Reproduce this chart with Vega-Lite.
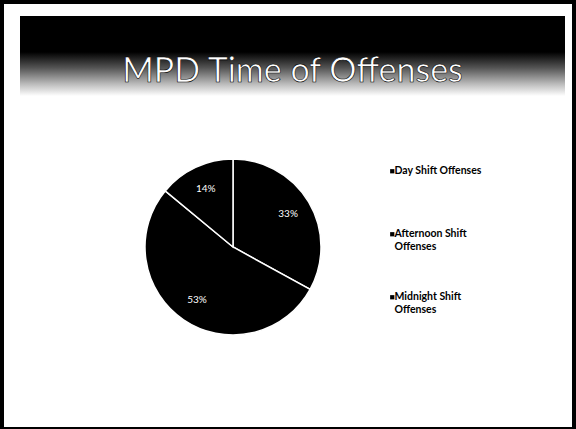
{
  "$schema": "https://vega.github.io/schema/vega-lite/v6.json",
  "background": "black",
  "padding": {"left": 4, "top": 4, "right": 4, "bottom": 2},
  "spacing": 0,
  "config": {
    "view": {"stroke": null},
    "concat": {"spacing": 0},
    "font": "Lato"
  },
  "vconcat": [
    {"width": 568, "height": 12, "data": {"values": [{}]}, "mark": {"type": "rect", "color": "white"}, "encoding": {}},
    {
      "bounds": "flush",
      "hconcat": [
        {"width": 16, "height": 80, "data": {"values": [{}]}, "mark": {"type": "rect", "color": "white"}, "encoding": {}},
        {
          "width": 545,
          "height": 80,
          "data": {"values": [{"title": "MPD Time of Offenses"}]},
          "layer": [
            {
              "mark": {
                "type": "rect",
                "color": {
                  "gradient": "linear",
                  "x1": 0, "y1": 0, "x2": 0, "y2": 1,
                  "stops": [
                    {"offset": 0, "color": "#000000"},
                    {"offset": 0.45, "color": "#000000"},
                    {"offset": 0.65, "color": "#555555"},
                    {"offset": 0.85, "color": "#bbbbbb"},
                    {"offset": 1, "color": "#ffffff"}
                  ]
                }
              },
              "encoding": {}
            },
            {
              "mark": {
                "type": "text",
                "fontSize": 34,
                "color": "white",
                "stroke": "black",
                "strokeWidth": 0.6,
                "baseline": "alphabetic",
                "align": "center",
                "dy": 26
              },
              "encoding": {"text": {"field": "title"}}
            }
          ]
        },
        {"width": 7, "height": 80, "data": {"values": [{}]}, "mark": {"type": "rect", "color": "white"}, "encoding": {}}
      ]
    },
    {
      "width": 568,
      "height": 302,
      "data": {
        "values": [
          {"shift": "Day Shift Offenses", "share": 0.33},
          {"shift": "Afternoon Shift Offenses", "share": 0.53},
          {"shift": "Midnight Shift Offenses", "share": 0.14}
        ]
      },
      "transform": [{"window": [{"op": "row_number", "as": "idx"}]}],
      "layer": [
        {
          "mark": {"type": "rect", "color": "white"},
          "encoding": {}
        },
        {
          "mark": {"type": "arc", "outerRadius": 88, "stroke": "white", "strokeWidth": 1.5, "xOffset": -55},
          "encoding": {
            "theta": {"field": "share", "type": "quantitative", "stack": true},
            "order": {"field": "idx", "type": "quantitative"},
            "color": {
              "field": "shift",
              "type": "nominal",
              "sort": ["Day Shift Offenses", "Afternoon Shift Offenses", "Midnight Shift Offenses"],
              "scale": {"range": ["#000000", "#000000", "#000000"]},
              "legend": {
                "orient": "none",
                "legendX": 383,
                "legendY": 162,
                "title": null,
                "symbolType": "square",
                "symbolSize": 18,
                "symbolStrokeWidth": 0,
                "labelFontSize": 10.5,
                "labelFontWeight": "bold",
                "labelColor": "black",
                "labelOffset": -3,
                "rowPadding": 39,
                "labelExpr": "datum.label == 'Afternoon Shift Offenses' ? ['Afternoon Shift', 'Offenses'] : datum.label == 'Midnight Shift Offenses' ? ['Midnight Shift', 'Offenses'] : [datum.label, '']"
              }
            }
          }
        },
        {
          "mark": {"type": "text", "radius": 64, "color": "white", "fontSize": 10, "xOffset": -55},
          "encoding": {
            "theta": {"field": "share", "type": "quantitative", "stack": true},
            "order": {"field": "idx", "type": "quantitative"},
            "text": {"field": "share", "type": "quantitative", "format": ".0%"}
          }
        }
      ]
    },
    {"width": 568, "height": 29, "data": {"values": [{}]}, "mark": {"type": "rect", "color": "white"}, "encoding": {}}
  ]
}
